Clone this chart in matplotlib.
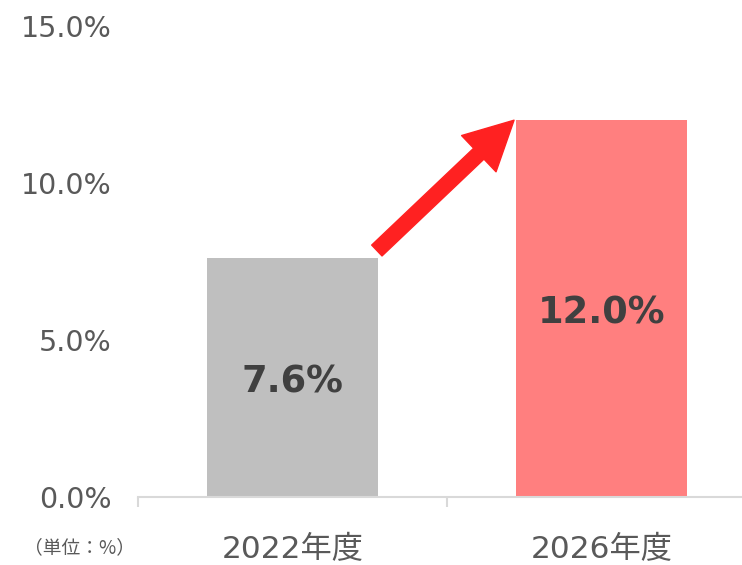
import matplotlib
matplotlib.use("Agg")
import matplotlib.pyplot as plt
from matplotlib.patches import FancyArrowPatch
from matplotlib.ticker import FixedLocator, PercentFormatter
from matplotlib.transforms import offset_copy

categories = ["2022年度", "2026年度"]
values = [7.6, 12.0]
value_labels = ["7.6%", "12.0%"]
yticks = [0, 5, 10, 15]
unit_label = "（単位：%）"

plt.rcParams['font.family'] = ['DejaVu Sans', 'Noto Sans CJK JP']

fig = plt.figure(figsize=(7.42, 5.65), dpi=100)
ax = fig.add_axes([138/742, 68/565, (756-138)/742, (539-68)/565])

bar_colors = ["#BFBFBF", "#FF7F7F"]
width = 0.556
x = list(range(len(categories)))
ax.bar(x, values, width=width, color=bar_colors, zorder=2)

label_tr = offset_copy(ax.transData, fig=fig, x=0, y=-4, units="dots")
for xi, v, lab in zip(x, values, value_labels):
    ax.text(xi, v / 2, lab, ha="center", va="center", fontsize=26.5,
            fontweight="bold", color="#404040", zorder=3, transform=label_tr)

ax.set_xlim(-0.5, len(categories) - 0.5)
ax.set_ylim(0, 15)
ax.set_yticks(yticks)
ax.yaxis.set_major_formatter(PercentFormatter(decimals=1))
ax.tick_params(axis="y", length=0, pad=19, labelsize=20.5, labelcolor="#595959")

ax.set_xticks(x)
ax.set_xticklabels(categories)
ax.tick_params(axis="x", which="major", length=0, pad=27, labelsize=22.5, labelcolor="#595959")
ax.xaxis.set_minor_locator(FixedLocator([i - 0.5 for i in range(len(categories) + 1)]))
ax.tick_params(axis="x", which="minor", length=7, width=1.5, color="#D9D9D9")

for s in ["top", "right", "left"]:
    ax.spines[s].set_visible(False)
ax.spines["bottom"].set_color("#D9D9D9")
ax.spines["bottom"].set_linewidth(1.5)

# arrow from bar 1 top to bar 2 top
tail = (x[0] + width / 2 - 0.005, values[0] + 0.25)
tip = (x[1] - width / 2 - 0.005, values[1])
arrow = FancyArrowPatch(tail, tip, arrowstyle="simple,head_length=3.5,head_width=3.6,tail_width=1.08",
                        mutation_scale=10, color="#FF2121", shrinkA=0, shrinkB=0, zorder=4)
ax.add_patch(arrow)

fig.text(24/742, 1 - 548/565, unit_label, ha="left", va="center", fontsize=13.5,
         color="#595959", family=['Noto Sans CJK JP', 'DejaVu Sans'])

fig.savefig("out.png", dpi=100)
